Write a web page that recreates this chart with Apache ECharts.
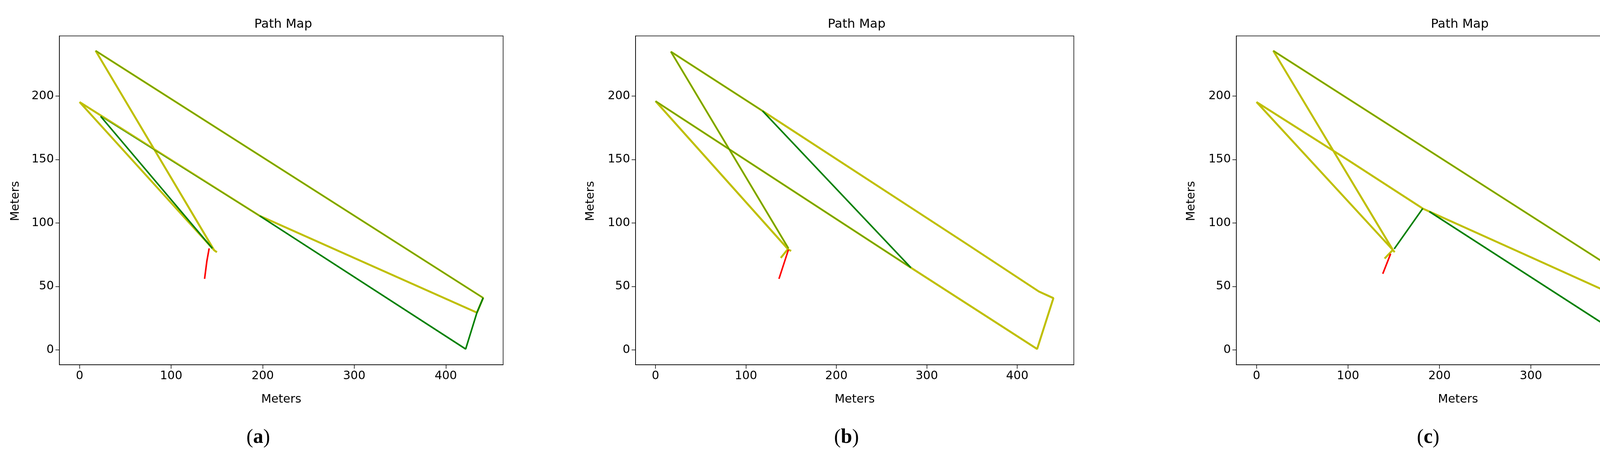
<!DOCTYPE html>
<html>
<head>
<meta charset="utf-8">
<script src="https://cdn.jsdelivr.net/npm/echarts@6/dist/echarts.min.js"></script>
<style>html,body{margin:0;padding:0;background:#fff}#main{width:4332px;height:1183px}</style>
</head>
<body>
<div id="main"></div>
<script>
// tick labels
var xTicks = [0, 100, 200, 300, 400];
var yTicks = [0, 50, 100, 150, 200];
var panelLabels = ['a', 'b', 'c'];

// (a) paths, meters
var yellowA = [[[147, 78.5], [17.5, 235.7], [440.8, 41], [434, 29.4], [320, 66], [196.8, 105.6], [0, 195.3], [147, 78.5], [150, 77]]];
var greenA = [[[440.8, 41], [434, 29.4], [421.7, 0.7], [196.8, 105.6]], [[23, 184], [145, 80]]];
var oliveA = [[[17.5, 235.7], [440.8, 41]], [[196.8, 105.6], [23, 184]]];
var redA = [[[136.5, 56], [139, 70], [141.5, 80]]];

// (b)
var yellowB = [[[147, 80], [17, 235], [118.4, 188.3], [343, 84], [424, 46], [440, 40.8], [422, 0.7], [282.4, 64.8], [0, 196], [147, 79], [150, 78]], [[147, 80], [138.5, 72.5]]];
var greenB = [[[118.4, 188.3], [282.4, 64.8]]];
var oliveB = [[[147, 80], [17, 235], [118.4, 188.3]], [[282.4, 64.8], [0, 196]]];
var redB = [[[136.5, 56], [147, 79]]];

// (c)
var yellowC = [[[149, 78.8], [18.3, 235.7], [440, 41], [434, 29.4], [300, 73], [181.7, 111.4], [100, 149.6], [0, 195.3], [149, 78.8], [151, 77]], [[149, 78.8], [140, 72]]];
var greenC = [[[440, 41], [434, 29.4], [421.8, 0.7], [188.9, 109]], [[150.5, 79.6], [181.7, 111.4]]];
var oliveC = [[[18.3, 235.7], [440, 41]]];
var redC = [[[138, 60], [146.6, 75.8]]];

var panels = [
  { left: 152, width: 1136, title: 720, name: 661, yName: 40, yellow: yellowA, green: greenA, olive: oliveA, red: redA },
  { left: 1627, width: 1122, title: 2188, name: 2167, yName: 1512, yellow: yellowB, green: greenB, olive: oliveB, red: redB },
  { left: 3165, width: 1135, title: 3732, name: 3656, yName: 3050, yellow: yellowC, green: greenC, olive: oliveC, red: redC }
];

var font = 'DejaVu Sans';
var grids = [], xAxes = [], yAxes = [], series = [], titles = [], graphics = [];

function addLines(list, idx, color, width, opacity, z) {
  list.forEach(function (pts) {
    series.push({
      type: 'line', xAxisIndex: idx, yAxisIndex: idx, data: pts,
      showSymbol: false, silent: true, z: z,
      lineStyle: { color: color, width: width, opacity: opacity }
    });
  });
}

panels.forEach(function (p, i) {
  grids.push({ left: p.left, top: 92, width: p.width, height: 842, show: true, borderColor: '#000', borderWidth: 1.5 });
  xAxes.push({
    type: 'value', gridIndex: i, min: -22.1, max: 462.6,
    name: 'Meters', nameLocation: 'middle', nameGap: 74,
    nameTextStyle: { fontFamily: font, fontSize: 30, color: '#000' },
    axisLine: { show: true, onZero: false, lineStyle: { color: '#000', width: 1.5 } },
    axisTick: { show: true, length: 10, customValues: xTicks, lineStyle: { color: '#000', width: 1.5 } },
    axisLabel: { customValues: xTicks, fontFamily: font, fontSize: 30, color: '#000', margin: 14 },
    splitLine: { show: false }
  });
  yAxes.push({
    type: 'value', gridIndex: i, min: -11.7, max: 247.4,
    axisLine: { show: true, onZero: false, lineStyle: { color: '#000', width: 1.5 } },
    axisTick: { show: true, length: 10, customValues: yTicks, lineStyle: { color: '#000', width: 1.5 } },
    axisLabel: { customValues: yTicks, fontFamily: font, fontSize: 30, color: '#000', margin: 14 },
    splitLine: { show: false }
  });
  titles.push({ text: 'Path Map', left: p.title, top: 42, textAlign: 'center',
    textStyle: { fontFamily: font, fontSize: 32, fontWeight: 'normal', color: '#000' } });
  graphics.push({ type: 'text', x: p.yName, y: 515, rotation: Math.PI / 2,
    style: { text: 'Meters', font: '30px "DejaVu Sans"', fill: '#000', align: 'center', verticalAlign: 'middle' } });
  graphics.push({ type: 'text', x: p.name, y: 1121,
    style: { text: '{p|(}{b|' + panelLabels[i] + '}{p|)}', align: 'center', verticalAlign: 'middle',
      rich: { p: { fontFamily: 'Liberation Serif', fontSize: 52, fill: '#000' },
              b: { fontFamily: 'Liberation Serif', fontSize: 52, fontWeight: 'bold', fill: '#000' } } } });

  addLines(p.green, i, '#008000', 4, 1, 3);
  addLines(p.yellow, i, '#bfbf00', 5, 1, 2);
  addLines(p.olive, i, '#008000', 2.5, 0.5, 4);
  addLines(p.red, i, '#ff0000', 4, 1, 5);
});

var chart = echarts.init(document.getElementById('main'));
chart.setOption({
  animation: false,
  backgroundColor: '#fff',
  title: titles,
  grid: grids,
  xAxis: xAxes,
  yAxis: yAxes,
  series: series,
  graphic: graphics
});
</script>
</body>
</html>
